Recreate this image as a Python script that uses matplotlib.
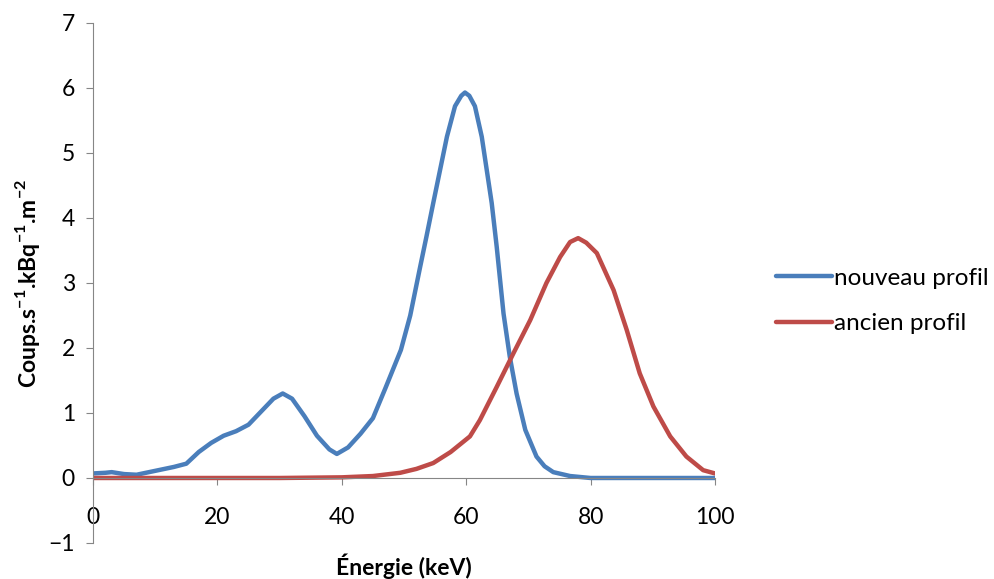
import matplotlib
matplotlib.use("Agg")
import matplotlib.pyplot as plt

# --- data ---
x_nouveau = [0, 2, 3, 5, 7, 9, 11, 13, 15, 17, 19, 21, 23, 25, 27, 29, 30.5, 32, 34, 36, 38, 39.2,
             41, 43, 45, 47, 49.5, 51, 52.6, 53.6, 54.7, 55.8, 56.9, 58.2, 59.2, 59.8, 60.5, 61.4,
             62.5, 63.3, 64.1, 64.9, 66.0, 67.0, 68.1, 69.5, 71.3, 72.6, 74.0, 76.7, 80, 90, 100]
y_nouveau = [0.07, 0.08, 0.09, 0.06, 0.05, 0.09, 0.13, 0.17, 0.22, 0.40, 0.54, 0.65, 0.72, 0.82, 1.02,
             1.22, 1.30, 1.22, 0.95, 0.65, 0.44, 0.37, 0.47, 0.68, 0.92, 1.38, 1.97, 2.5, 3.25, 3.71,
             4.23, 4.74, 5.25, 5.72, 5.88, 5.93, 5.88, 5.72, 5.25, 4.74, 4.23, 3.56, 2.53, 1.87, 1.30,
             0.74, 0.33, 0.18, 0.09, 0.03, 0.0, 0.0, 0.0]

x_ancien = [0, 10, 20, 30, 40, 45, 49.4, 52, 54.7, 57.5, 60.6, 62.2, 64.9, 67.6, 70.3, 72.9, 75.1,
            76.7, 78.0, 79.3, 81.0, 83.7, 85.8, 87.9, 90.1, 92.8, 95.4, 98.1, 100]
y_ancien = [0.0, 0.0, 0.0, 0.0, 0.01, 0.03, 0.08, 0.14, 0.23, 0.40, 0.64, 0.89, 1.40, 1.92, 2.43, 3.0,
            3.40, 3.63, 3.69, 3.62, 3.46, 2.89, 2.28, 1.61, 1.10, 0.64, 0.33, 0.12, 0.07]

series_labels = ["nouveau profil", "ancien profil"]
x_ticks = [0, 20, 40, 60, 80, 100]
y_ticks = [-1, 0, 1, 2, 3, 4, 5, 6, 7]
x_label = "Énergie (keV)"
y_label = r"Coups.s$^{\mathbf{-1}}$.kBq$^{\mathbf{-1}}$.m$^{\mathbf{-2}}$"

plt.rcParams['font.family'] = ['Lato', 'DejaVu Sans']
plt.rcParams['mathtext.fontset'] = 'custom'
plt.rcParams['mathtext.rm'] = 'Lato:bold'
plt.rcParams['mathtext.bf'] = 'Lato:bold'

fig = plt.figure(figsize=(9.94, 5.79), dpi=100)
ax = fig.add_axes([0.0936, 0.0622, 0.6257, 0.8981])

blue = "#4A7EBB"
red = "#BE4B48"
ax.plot(x_nouveau, y_nouveau, color=blue, lw=3.2, label=series_labels[0],
        solid_capstyle='round', solid_joinstyle='round')
ax.plot(x_ancien, y_ancien, color=red, lw=3.2, label=series_labels[1],
        solid_capstyle='round', solid_joinstyle='round')

ax.set_xlim(0, 100)
ax.set_ylim(-1, 7)
ax.set_xticks(x_ticks)
ax.set_yticks(y_ticks)

grey = "#868686"
for s in ['top', 'right']:
    ax.spines[s].set_visible(False)
ax.spines['left'].set_color(grey)
ax.spines['bottom'].set_color(grey)
ax.spines['bottom'].set_position(('data', 0))
ax.tick_params(axis='y', direction='out', length=5, color=grey, labelsize=16.5, pad=8)
ax.tick_params(axis='x', direction='out', length=5, color=grey, labelsize=16.5, pad=16)

ax.set_xlabel(x_label, fontsize=16.5, fontweight='bold', labelpad=0)
ax.xaxis.set_label_coords(0.5, -0.02)
ax.set_ylabel(y_label, fontsize=16.5, fontweight='bold')
ax.yaxis.set_label_coords(-0.082, 0.5)

leg = ax.legend(loc='upper left', bbox_to_anchor=(1.082, 0.548), frameon=False, fontsize=17.5,
                handlelength=2.3, handletextpad=0.1, labelspacing=1.0, borderaxespad=0)

fig.savefig("out.png", dpi=100)
